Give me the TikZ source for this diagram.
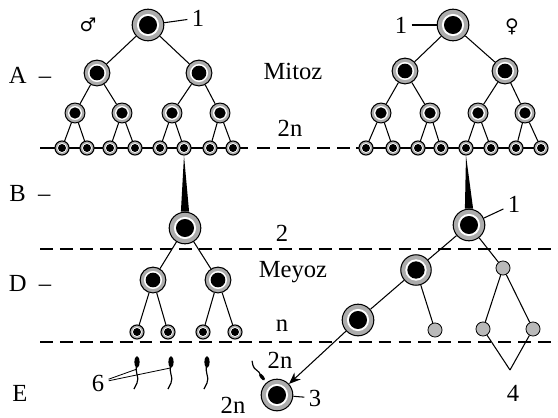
\documentclass[tikz,border=0pt]{standalone}
\usepackage{fontspec}
\setmainfont{Liberation Serif}
\newfontfamily\signfont{DejaVu Sans}
\usetikzlibrary{arrows.meta}

\tikzset{
  cell/.style={circle, draw, line width=0.9pt, fill=gray!65, inner sep=0pt,
    minimum size=#1,
    path picture={
      \fill [white] (path picture bounding box.center) circle [radius=0.35*#1];
      \fill [black] (path picture bounding box.center) circle [radius=0.285*#1];
    }},
  polar/.style={circle, draw, line width=0.7pt, fill=gray!55, inner sep=0pt,
    minimum size=12pt},
  cut/.style={dash pattern=on 11pt off 6pt},
  sperm/.pic={
    \fill (0, 0) ellipse [x radius=2.2pt, y radius=5pt];
    \draw [line width=1pt] (0, 3) .. controls (-3, 10) and (3, 15) .. (0, 21)
      .. controls (-2, 24) .. (-3, 27);
  },
}

\begin{document}
\begin{tikzpicture}
    [x=0.03cm, y=-0.03cm, line width=0.9pt,
     >={Stealth[length=10pt, width=8pt]},
     font=\fontsize{21}{25}\selectfont]

    \useasboundingbox (0, 0) rectangle (558, 417);

    % division lines
    \coordinate (mL) at (40, 148);
    \coordinate (mR) at (248, 148);
    \coordinate (fL) at (356, 148);
    \coordinate (fR) at (548, 148);
    \coordinate (c1L) at (40, 249);
    \coordinate (c1R) at (558, 249);
    \coordinate (c2L) at (40, 342);
    \coordinate (c2R) at (558, 342);

    \draw (mL) -- (mR);
    \draw (fL) -- (fR);
    \draw [cut, shorten <=8pt, shorten >=4pt] (mR) -- (fL);
    \draw [cut] (c1L) -- (c1R);
    \draw [cut] (c2L) -- (c2R);

    % stages and texts
    \node at (30, 75) (lA) {A\enspace--};
    \node at (30, 193) (lB) {B\enspace--};
    \node at (30, 283) (lD) {D\enspace--};
    \node at (20, 393) (lE) {E};

    \node at (88, 25) (male) {\signfont\fontsize{16}{18}\selectfont ♂};
    \node at (512, 27) (female) {\signfont\fontsize{16}{18}\selectfont ♀};

    \node at (293, 71) (mitoz) {Mitoz};
    \node at (293, 272) (meyoz) {Meyoz};
    \node at (290, 128) (p2n) {2n};
    \node at (282, 233) (p2) {2};
    \node at (282, 326) (pn) {n};
    \node at (280, 360) (z2n) {2n};
    \node at (233, 405) (e2n) {2n};

    % male line
    \node [cell=27pt] at (148, 25) (mroot) {};
    \node [cell=22pt] at ( 97, 73) (m21) {};
    \node [cell=22pt] at (199, 73) (m22) {};
    \node [cell=17pt] at ( 75, 113) (m31) {};
    \node [cell=17pt] at (122, 113) (m32) {};
    \node [cell=17pt] at (172, 113) (m33) {};
    \node [cell=17pt] at (220, 113) (m34) {};
    \node [cell=12pt] at ( 62, 148) (m41) {};
    \node [cell=12pt] at ( 87, 148) (m42) {};
    \node [cell=12pt] at (110, 148) (m43) {};
    \node [cell=12pt] at (135, 148) (m44) {};
    \node [cell=12pt] at (160, 148) (m45) {};
    \node [cell=12pt] at (184, 148) (m46) {};
    \node [cell=12pt] at (210, 148) (m47) {};
    \node [cell=12pt] at (233, 148) (m48) {};
    \node [cell=27pt] at (185, 228) (mB) {};
    \node [cell=22pt] at (153, 280) (mD1) {};
    \node [cell=22pt] at (218, 280) (mD2) {};
    \node [cell=12pt] at (137, 332) (mE1) {};
    \node [cell=12pt] at (168, 332) (mE2) {};
    \node [cell=12pt] at (203, 332) (mE3) {};
    \node [cell=12pt] at (235, 332) (mE4) {};

    \node at (198, 18) (m1) {1};
    \draw (mroot) -- (m1);

    \draw (mroot) -- (m21);
    \draw (mroot) -- (m22);
    \draw (m21) -- (m31);
    \draw (m21) -- (m32);
    \draw (m22) -- (m33);
    \draw (m22) -- (m34);
    \draw (m31) -- (m41);
    \draw (m31) -- (m42);
    \draw (m32) -- (m43);
    \draw (m32) -- (m44);
    \draw (m33) -- (m45);
    \draw (m33) -- (m46);
    \draw (m34) -- (m47);
    \draw (m34) -- (m48);

    \fill (m46.south) -- ([xshift=-3.5pt]mB.north) -- ([xshift=3.5pt]mB.north) -- cycle;

    \draw (mB) -- (mD1);
    \draw (mB) -- (mD2);
    \draw (mD1) -- (mE1);
    \draw (mD1) -- (mE2);
    \draw (mD2) -- (mE3);
    \draw (mD2) -- (mE4);

    % female line
    \node [cell=27pt] at (453, 25) (froot) {};
    \node [cell=22pt] at (405, 71) (f21) {};
    \node [cell=22pt] at (505, 71) (f22) {};
    \node [cell=17pt] at (381, 113) (f31) {};
    \node [cell=17pt] at (430, 113) (f32) {};
    \node [cell=17pt] at (478, 113) (f33) {};
    \node [cell=17pt] at (525, 113) (f34) {};
    \node [cell=12pt] at (366, 148) (f41) {};
    \node [cell=12pt] at (393, 148) (f42) {};
    \node [cell=12pt] at (418, 148) (f43) {};
    \node [cell=12pt] at (441, 148) (f44) {};
    \node [cell=12pt] at (466, 148) (f45) {};
    \node [cell=12pt] at (491, 148) (f46) {};
    \node [cell=12pt] at (516, 148) (f47) {};
    \node [cell=12pt] at (541, 148) (f48) {};
    \node [cell=27pt] at (469, 225) (fB) {};
    \node [cell=26pt] at (416, 270) (fD) {};
    \node [polar] at (503, 268) (fp1) {};
    \node [cell=27pt] at (358, 320) (fE) {};
    \node [polar] at (435, 330) (fp2) {};
    \node [polar] at (483, 329) (fp3) {};
    \node [polar] at (533, 329) (fp4) {};
    \coordinate (fp) at (510, 370);

    \node at (401, 25) (f1) {1};
    \draw (f1) -- (froot);
    \node at (514, 204) (fB1) {1};
    \draw (fB) -- (fB1);

    \draw (froot) -- (f21);
    \draw (froot) -- (f22);
    \draw (f21) -- (f31);
    \draw (f21) -- (f32);
    \draw (f22) -- (f33);
    \draw (f22) -- (f34);
    \draw (f31) -- (f41);
    \draw (f31) -- (f42);
    \draw (f32) -- (f43);
    \draw (f32) -- (f44);
    \draw (f33) -- (f45);
    \draw (f33) -- (f46);
    \draw (f34) -- (f47);
    \draw (f34) -- (f48);

    \fill (f45.south) -- ([xshift=-3.5pt]fB.north) -- ([xshift=3.5pt]fB.north) -- cycle;

    \draw (fB) -- (fD);
    \draw (fB) -- (fp1);
    \draw (fD) -- (fE);
    \draw (fD) -- (fp2);
    \draw (fp1) -- (fp3);
    \draw (fp1) -- (fp4);
    \draw (fp3) -- (fp);
    \draw (fp4) -- (fp);
    \node at (513, 393) (p4) {4};

    % fertilisation
    \node [cell=27pt] at (277, 395) (egg) {};
    \node at (315, 398) (p3) {3};
    \draw (egg) -- (p3);
    \draw [->] (fE) -- (egg);

    \coordinate (s1) at (137, 362);
    \coordinate (s2) at (171, 362);
    \coordinate (s3) at (207, 362);
    \coordinate (s4) at (262, 377);
    \pic at (s1) {sperm};
    \pic at (s2) {sperm};
    \pic at (s3) {sperm};
    \pic [rotate=-142, scale=0.7] at (s4) {sperm};

    \node at (98, 383) (six) {6};
    \draw [line width=0.7pt] (six) -- ([yshift=-6pt]s1);
    \draw [line width=0.7pt] (six) -- ([yshift=-5pt]s2);

  \end{tikzpicture}
\end{document}
